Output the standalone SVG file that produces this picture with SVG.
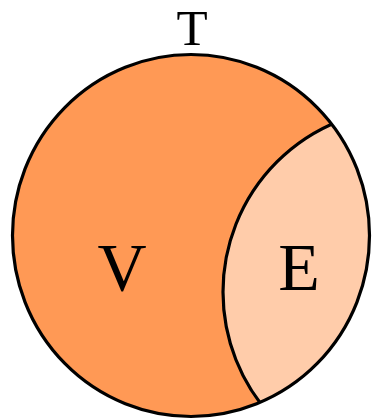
<svg xmlns="http://www.w3.org/2000/svg" width="372" height="420" viewBox="0 0 372 420">
  <style>
    .lbl { font-family: "Liberation Serif", "DejaVu Serif", serif; fill: #000; text-anchor: middle; }
    .edge { stroke: #000; stroke-width: 3.2; fill: none; }
  </style>
  <defs>
    <clipPath id="inT">
      <ellipse cx="191" cy="235.5" rx="178.5" ry="181"/>
    </clipPath>
  </defs>
  <rect width="372" height="420" fill="#fff"/>
  <g id="T">
    <ellipse cx="191" cy="235.5" rx="178.5" ry="181" fill="#FF9955"/>
    <text class="lbl" x="192" y="44.5" font-size="51">T</text>
  </g>
  <g id="E">
    <circle cx="407" cy="292" r="184" fill="#FFCCAA" clip-path="url(#inT)"/>
    <text class="lbl" x="299" y="289.5" font-size="68">E</text>
  </g>
  <g id="V">
    <text class="lbl" x="122" y="289.5" font-size="68">V</text>
  </g>
  <g id="connectors">
    <circle class="edge" cx="407" cy="292" r="184" clip-path="url(#inT)"/>
    <ellipse class="edge" cx="191" cy="235.5" rx="178.5" ry="181"/>
  </g>
</svg>
